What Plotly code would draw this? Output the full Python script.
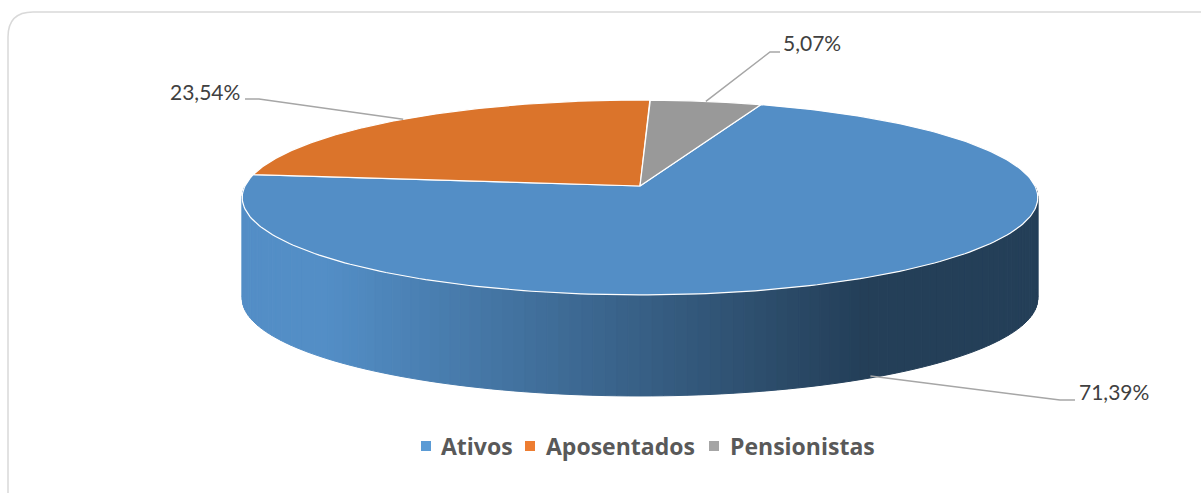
import numpy as np
import plotly.graph_objects as go

# --- data ---
categories = ["Ativos", "Aposentados", "Pensionistas"]
values = [71.39, 23.54, 5.07]

# --- style / geometry of the drawing ---
top_colors = ["#538EC6", "#DB742B", "#999999"]
legend_colors = ["#5B9BD5", "#ED7D31", "#A5A5A5"]
START = 70.15          # degrees, counter-clockwise from east; slices run clockwise
CX, CY = 640.0, 186.0  # apex of the pie in pixels
R, A, K = 395.0, 96.1, 0.118
DEPTH = 101.0
TXT = "#404040"


def project(deg, depth=0.0):
    t = np.radians(np.asarray(deg, dtype=float))
    d = 1 + K * np.sin(t)
    return CX + R * np.cos(t) / d, CY - A * np.sin(t) / d + depth


def lerp_color(x):
    c0, c1 = np.array([83, 142, 198]), np.array([36, 63, 88])
    f = np.clip((x - 330) / (865 - 330), 0, 1)
    c = c0 + (c1 - c0) * f
    return "rgb(%d,%d,%d)" % tuple(c)


# slice boundaries from the values
sweeps = [v / sum(values) * 360 for v in values]
edges = [START]
for s in sweeps:
    edges.append(edges[-1] - s)

fig = go.Figure()

# side wall of the cylinder, as thin strips coloured by position
strip_edges = np.arange(180.0, 360.01, 1.5)
for a0, a1 in zip(strip_edges[:-1], strip_edges[1:]):
    ts = np.array([a0, a1])
    xt, yt = project(ts)
    xb, yb = project(ts, DEPTH)
    col = lerp_color((xt[0] + xt[1]) / 2)
    fig.add_trace(go.Scatter(
        x=[xt[0], xt[1], xb[1], xb[0], xt[0]],
        y=[yt[0], yt[1], yb[1], yb[0], yt[0]],
        mode="lines", fill="toself", fillcolor=col,
        line=dict(color=col, width=1), hoverinfo="skip", showlegend=False))

# top faces
for i, name in enumerate(categories):
    ts = np.linspace(edges[i], edges[i + 1], 240)
    x, y = project(ts)
    fig.add_trace(go.Scatter(
        x=np.r_[CX, x, CX], y=np.r_[CY, y, CY],
        mode="lines", fill="toself", fillcolor=top_colors[i],
        line=dict(color="white", width=1.2), name=name,
        hoverinfo="name", showlegend=False))

# leader lines and labels
mid = [(edges[i] + edges[i + 1]) / 2 for i in range(3)]
elbows = [((1060, 400), (1075, 400)), ((259, 99), (245, 99)), ((770, 52), (780, 52))]
label_pos = [(1076.5, 391, "left"), (242, 91.5, "right"), (781, 42.5, "left")]
anchor_depth = [DEPTH - 2, 0, 0]
for i in range(3):
    x0, y0 = project(mid[i], anchor_depth[i])
    (x1, y1), (x2, y2) = elbows[i]
    fig.add_trace(go.Scatter(
        x=[float(x0), x1, x2], y=[float(y0), y1, y2], mode="lines",
        line=dict(color="#A6A6A6", width=1.5), hoverinfo="skip", showlegend=False))
    lx, ly, anc = label_pos[i]
    fig.add_annotation(x=lx, y=ly, xref="x", yref="y", showarrow=False,
                       text=f"{values[i]:.2f}".replace(".", ",") + "%",
                       xanchor=anc, yanchor="middle",
                       font=dict(family="Lato", size=21, color=TXT))

# legend row
legend_x = [426, 530, 714]
legend_text_x = [439, 544, 728]
legend_y = 446
legend_text_y = 446
for i, name in enumerate(categories):
    fig.add_trace(go.Scatter(
        x=[legend_x[i]], y=[legend_y], mode="markers", name=name,
        marker=dict(symbol="square", size=10, color=legend_colors[i]),
        hoverinfo="name", showlegend=False))
    fig.add_annotation(x=legend_text_x[i], y=legend_text_y, xref="x", yref="y", showarrow=False,
                       text=f"<b>{name}</b>", xanchor="left", yanchor="middle",
                       font=dict(family="Open Sans", size=23, color="#595959"))

# rounded chart frame
fig.add_shape(type="path", xref="x", yref="y", layer="below",
              path="M 8 520 L 8 37 Q 8 12 33 12 L 1230 12",
              line=dict(color="#D9D9D9", width=1.5), fillcolor="white")

fig.update_layout(
    width=1201, height=493, margin=dict(l=0, r=0, t=0, b=0),
    paper_bgcolor="white", plot_bgcolor="white", showlegend=False,
    xaxis=dict(range=[0, 1201], visible=False, fixedrange=True),
    yaxis=dict(range=[493, 0], visible=False, fixedrange=True),
)
fig.write_html("out.html", config={"displayModeBar": False},
               post_script="document.body.style.margin='0';document.documentElement.style.overflow='hidden';")
